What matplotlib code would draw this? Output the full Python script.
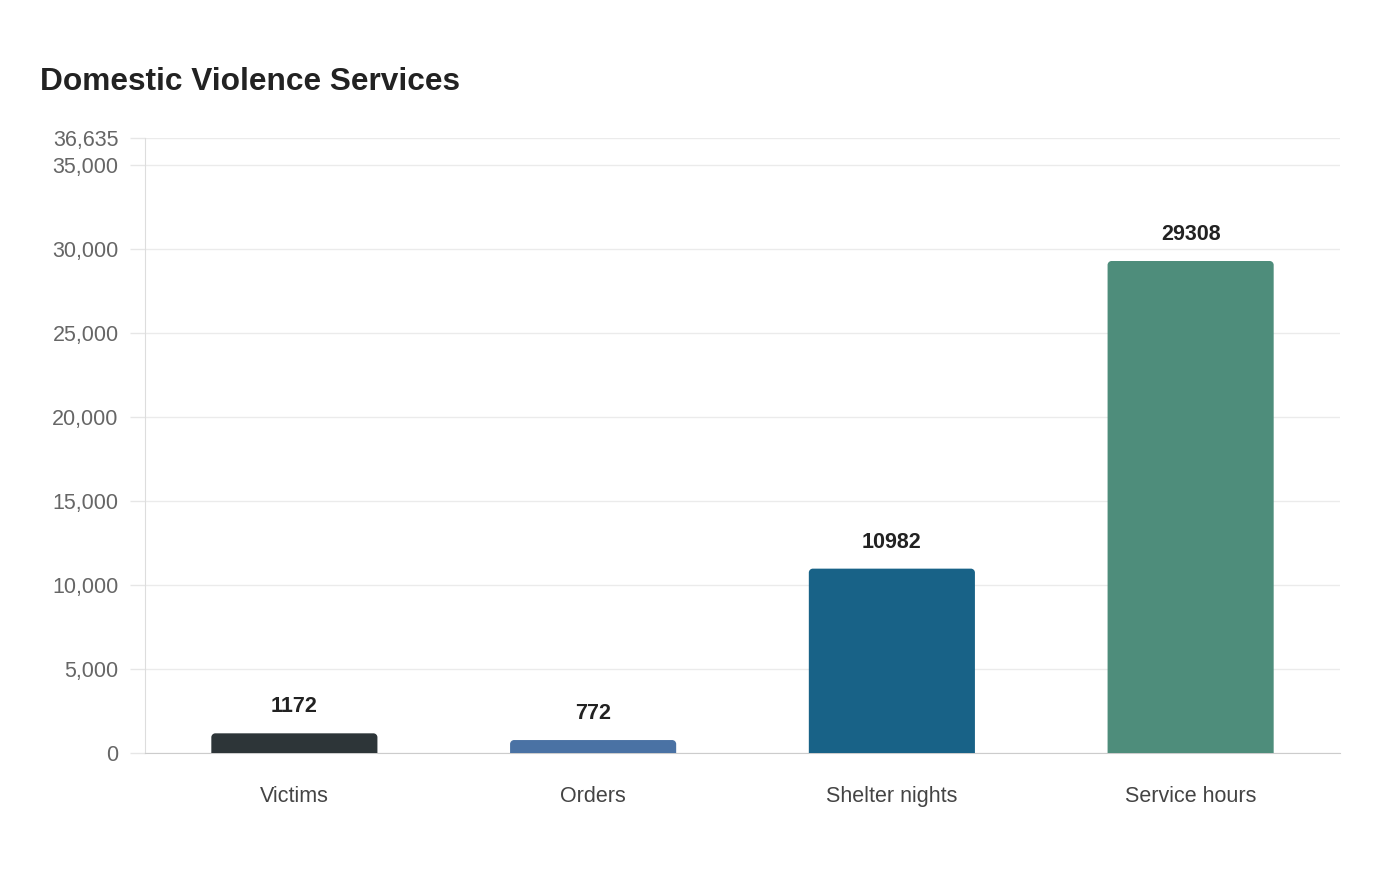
import matplotlib
matplotlib.use('Agg')
import matplotlib.pyplot as plt
from matplotlib.patches import PathPatch
from matplotlib.path import Path

# данные графика
categories = ['Victims', 'Orders', 'Shelter nights', 'Service hours']
values = [1172, 772, 10982, 29308]
colors = ['#2d3538', '#4a72a4', '#186287', '#4e8d7b']
y_max = 36635
y_ticks = [0, 5000, 10000, 15000, 20000, 25000, 30000, 35000, 36635]

plt.rcParams['font.family'] = ['Liberation Sans', 'DejaVu Sans']

fig = plt.figure(figsize=(14, 8.8), dpi=100)
L, R, T, B = 145, 1340, 138, 753
ax = fig.add_axes([L / 1400, 1 - B / 880, (R - L) / 1400, (B - T) / 880])

n = len(categories)
ax.set_xlim(-0.5, n - 0.5)
ax.set_ylim(0, y_max)

# радиус скругления: 4 пикселя в единицах данных
rx = 4 * n / (R - L)
ry = 4 * y_max / (B - T)
k = 0.5523
width = 0.556


def top_rounded_bar(x0, w, h):
    # столбик со скруглёнными верхними углами одним контуром
    x1 = x0 + w
    verts = [(x0, 0), (x0, h - ry),
             (x0, h - ry + k * ry), (x0 + rx - k * rx, h), (x0 + rx, h),
             (x1 - rx, h),
             (x1 - rx + k * rx, h), (x1, h - ry + k * ry), (x1, h - ry),
             (x1, 0), (x0, 0)]
    codes = [Path.MOVETO, Path.LINETO,
             Path.CURVE4, Path.CURVE4, Path.CURVE4,
             Path.LINETO,
             Path.CURVE4, Path.CURVE4, Path.CURVE4,
             Path.LINETO, Path.CLOSEPOLY]
    return Path(verts, codes)


for i, (v, c) in enumerate(zip(values, colors)):
    ax.add_patch(PathPatch(top_rounded_bar(i - width / 2, width, v),
                           fc=c, ec='none', zorder=3))
    ax.annotate(str(v), (i, v), xytext=(0, 15), textcoords='offset points',
                ha='center', va='baseline', fontsize=15.5, fontweight='bold',
                color='#222222', zorder=4)

ax.set_xticks(range(n))
ax.set_xticklabels(categories, fontsize=15.5, color='#444444')
ax.set_yticks(y_ticks)
ax.set_yticklabels([f'{t:,}' for t in y_ticks], fontsize=15.5, color='#666666')
ax.tick_params(axis='x', length=0, pad=24)
ax.tick_params(axis='y', length=11, color='#e6e6e6', width=1, pad=8)

ax.grid(axis='y', color='#ebebeb', linewidth=1, zorder=0)
ax.set_axisbelow(True)
for s in ['top', 'right']:
    ax.spines[s].set_visible(False)
ax.spines['left'].set_color('#dddddd')
ax.spines['bottom'].set_color('#cccccc')

fig.text(40 / 1400, 1 - 90 / 880, 'Domestic Violence Services', fontsize=22.8,
         fontweight='bold', color='#222222', va='baseline', ha='left')

fig.savefig('out.png', dpi=100, facecolor='white')
